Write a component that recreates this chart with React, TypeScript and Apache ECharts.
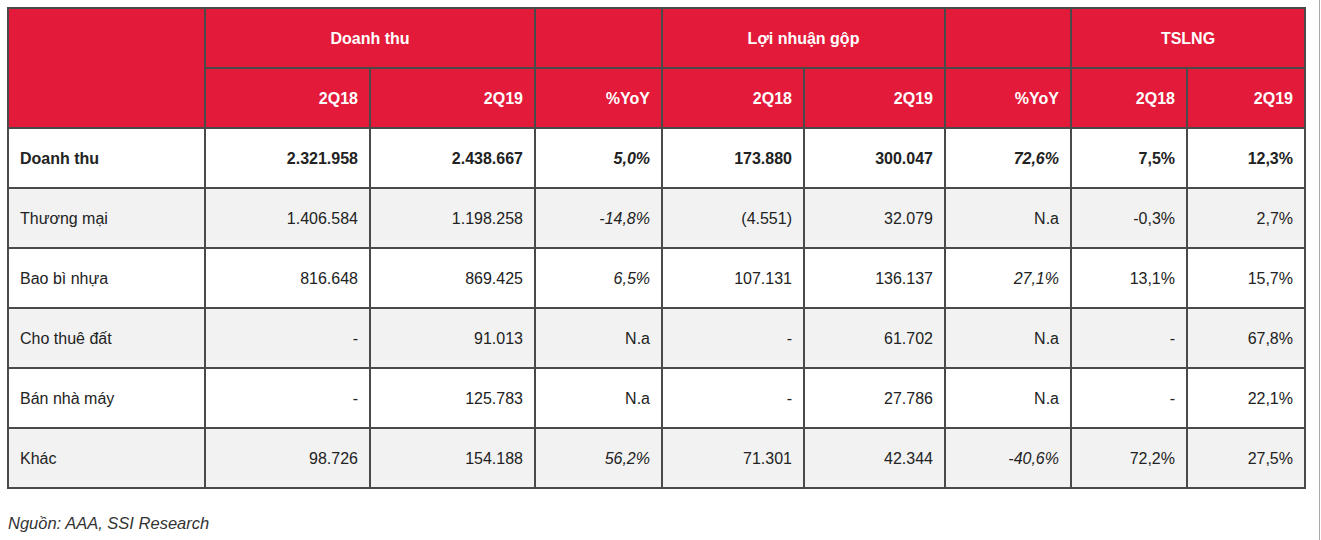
import React, { useEffect, useRef } from "react";
import * as echarts from "echarts";

const groupHeaders = ["Doanh thu", "", "Lợi nhuận gộp", "", "TSLNG"];
const columnHeaders = ["2Q18", "2Q19", "%YoY", "2Q18", "2Q19", "%YoY", "2Q18", "2Q19"];
const rowLabels = ["Doanh thu", "Thương mại", "Bao bì nhựa", "Cho thuê đất", "Bán nhà máy", "Khác"];
const revenue2Q18 = ["2.321.958", "1.406.584", "816.648", "-", "-", "98.726"];
const revenue2Q19 = ["2.438.667", "1.198.258", "869.425", "91.013", "125.783", "154.188"];
const revenueYoY = ["5,0%", "-14,8%", "6,5%", "N.a", "N.a", "56,2%"];
const grossProfit2Q18 = ["173.880", "(4.551)", "107.131", "-", "-", "71.301"];
const grossProfit2Q19 = ["300.047", "32.079", "136.137", "61.702", "27.786", "42.344"];
const grossProfitYoY = ["72,6%", "N.a", "27,1%", "N.a", "N.a", "-40,6%"];
const margin2Q18 = ["7,5%", "-0,3%", "13,1%", "-", "-", "72,2%"];
const margin2Q19 = ["12,3%", "2,7%", "15,7%", "67,8%", "22,1%", "27,5%"];
const sourceNote = "Nguồn: AAA, SSI Research";

const COLS = [8, 205, 370, 535, 662, 804, 945, 1071, 1187, 1305];
const ROWS = [8, 68, 128, 188, 248, 308, 368, 428, 488];
const RED = "#E31A3A";
const BORDER = "#4a4a4a";
const TEXT = "#222";
const FONT = "'Liberation Sans', Arial, sans-serif";

export default function App() {
  const ref = useRef<HTMLDivElement>(null);
  useEffect(() => {
    if (!ref.current) return;
    const chart = echarts.init(ref.current, undefined, { renderer: "svg" });
    const els: any[] = [];
    const cell = (c0: number, c1: number, r0: number, r1: number, fill: string) => {
      els.push({
        type: "rect",
        shape: { x: COLS[c0], y: ROWS[r0], width: COLS[c1] - COLS[c0], height: ROWS[r1] - ROWS[r0] },
        style: { fill, stroke: BORDER, lineWidth: 2 },
        z: 1,
      });
    };
    const txt = (
      s: string,
      x: number,
      y: number,
      align: string,
      color: string,
      weight: string,
      italic: boolean,
      size = 16
    ) => {
      els.push({
        type: "text",
        x,
        y,
        z: 5,
        style: {
          text: s,
          fill: color,
          font: `${italic ? "italic " : ""}${weight} ${size}px ${FONT}`,
          textAlign: align,
          textVerticalAlign: "middle",
        },
      });
    };

    // header row 1
    cell(0, 1, 0, 2, RED);
    const groupSpans = [
      [1, 3],
      [3, 4],
      [4, 6],
      [6, 7],
      [7, 9],
    ];
    groupSpans.forEach(([a, b], i) => {
      cell(a, b, 0, 1, RED);
      if (groupHeaders[i]) {
        txt(groupHeaders[i], (COLS[a] + COLS[b]) / 2, (ROWS[0] + ROWS[1]) / 2, "center", "#fff", "bold", false);
      }
    });
    // header row 2
    columnHeaders.forEach((h, i) => {
      cell(i + 1, i + 2, 1, 2, RED);
      txt(h, COLS[i + 2] - 12, (ROWS[1] + ROWS[2]) / 2, "right", "#fff", "bold", false);
    });

    const columns = [
      revenue2Q18,
      revenue2Q19,
      revenueYoY,
      grossProfit2Q18,
      grossProfit2Q19,
      grossProfitYoY,
      margin2Q18,
      margin2Q19,
    ];
    const italicCols = [2, 5];
    rowLabels.forEach((label, r) => {
      const fill = r % 2 === 1 ? "#F2F2F2" : "#FFFFFF";
      const r0 = r + 2;
      const cy = (ROWS[r0] + ROWS[r0 + 1]) / 2;
      const weight = r === 0 ? "bold" : "normal";
      cell(0, 1, r0, r0 + 1, fill);
      txt(label, 20, cy, "left", TEXT, weight, false);
      columns.forEach((col, c) => {
        cell(c + 1, c + 2, r0, r0 + 1, fill);
        const v = col[r];
        const italic = italicCols.includes(c) && v.includes("%");
        txt(v, COLS[c + 2] - 12, cy, "right", TEXT, weight, italic);
      });
    });

    // source note
    txt(sourceNote, 8, 523, "left", "#333", "normal", true, 16.5);

    // right edge line
    els.push({
      type: "line",
      shape: { x1: 1319.5, y1: 0, x2: 1319.5, y2: 540 },
      style: { stroke: "#a8a8a8", lineWidth: 1 },
      z: 1,
    });

    chart.setOption({
      animation: false,
      backgroundColor: "#fff",
      graphic: { elements: els },
    });
    return () => chart.dispose();
  }, []);
  return (
    <div
      ref={ref}
      style={{ position: "absolute", left: 0, top: 0, width: 1321, height: 540 }}
    />
  );
}
